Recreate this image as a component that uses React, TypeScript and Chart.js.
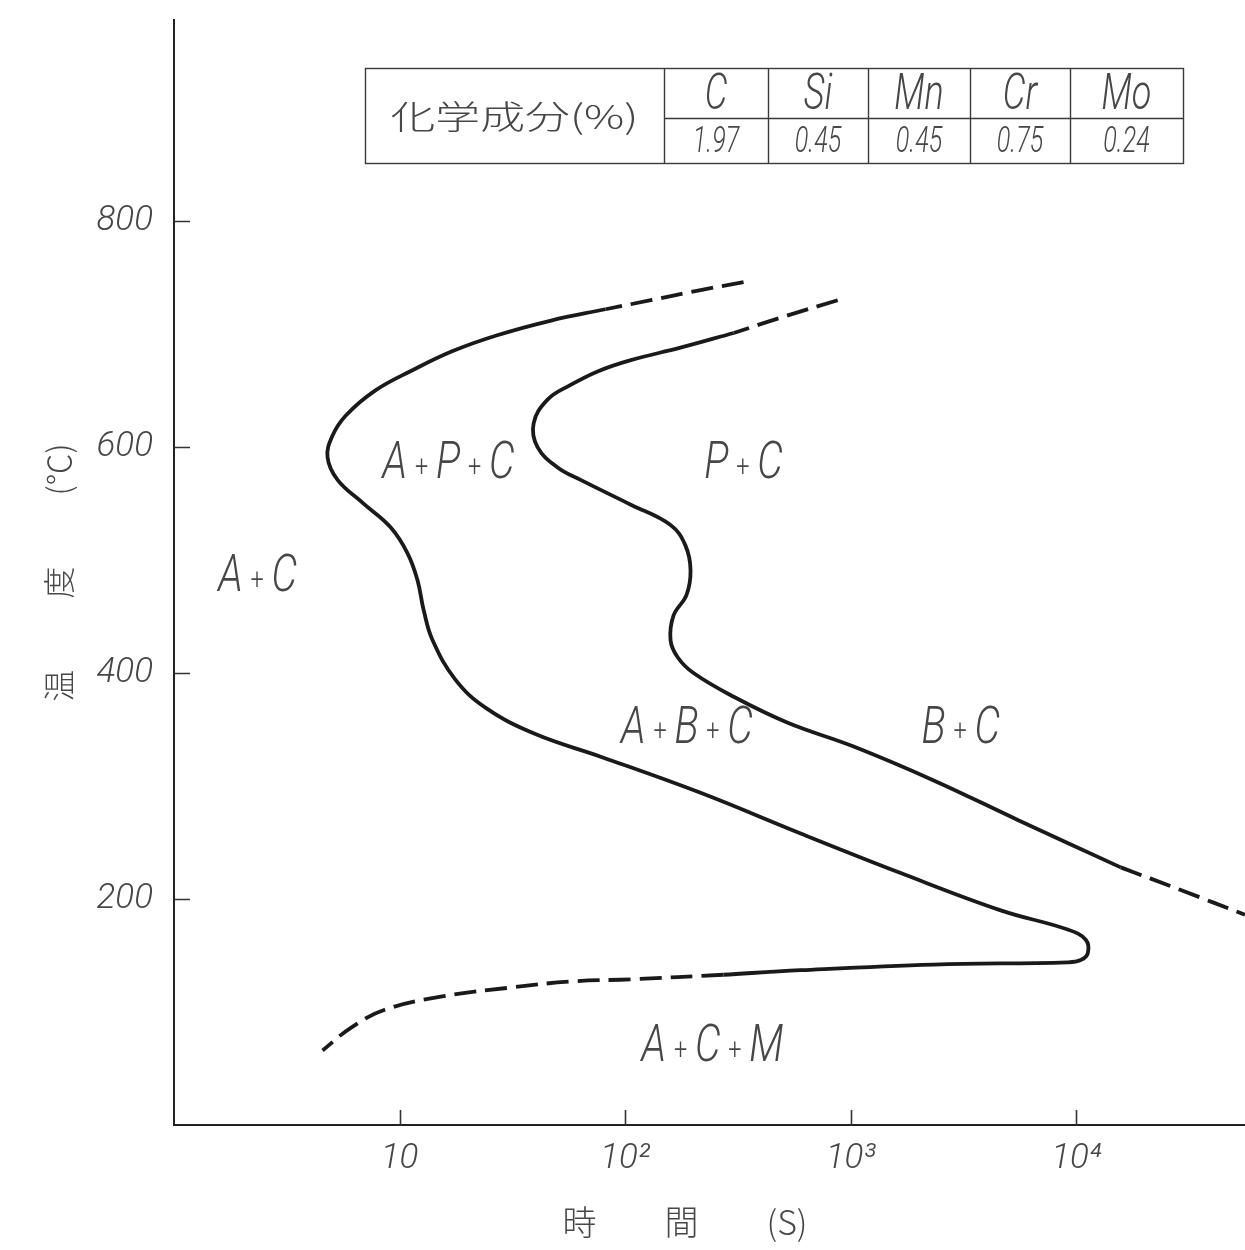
import React, { useEffect, useRef } from 'react';
import { Chart, registerables } from 'chart.js';

Chart.register(...registerables);

// Start curve of the isothermal transformation: time (s) and temperature (°C)
const startTopDashTime = [335, 216, 130, 81.9];
const startTopDashTemp = [746, 739, 730, 722];
const startTime = [81.9, 47.0, 27.1, 17.2, 11.4, 7.79, 5.78, 5.04, 4.794, 5.31, 6.925, 9.123, 10.85, 12.02, 12.78, 14.01, 17.71, 24.2, 40.0, 77.9, 216, 600, 1667, 4627, 9170, 11020, 11250, 10470, 9170, 2334, 600, 273];
const startTemp = [722, 712, 699, 685, 668, 650, 628, 610, 591, 571, 550, 529, 506, 482, 456, 429, 394, 369, 346, 326, 294, 258, 223, 190, 173, 164, 152, 146, 144, 142, 137, 133];
const startTailDashTime = [273, 107, 57.4, 32.3, 15.7, 8.59, 6.08, 4.556];
const startTailDashTemp = [133, 129, 127, 122, 114, 102, 86, 66];

// Finish curve
const finishTopDashTime = [876, 515, 303];
const finishTopDashTemp = [730, 716, 701];
const finishTime = [303, 176, 106, 75.5, 57.3, 45.3, 39.3, 40.9, 50.2, 63.5, 106, 159, 185, 195, 187, 164, 159, 171, 201, 303, 526, 1031, 2334, 5504, 15750];
const finishTemp = [701, 688, 677, 667, 655, 642, 621, 600, 582, 571, 549, 531, 513, 491, 469, 451, 429, 414, 400, 379, 356, 335, 305, 270, 228];
const finishTailDashTime = [15750, 29070, 56000];
const finishTailDashTemp = [228, 208, 186];

// Phase fields
const phaseNames = ['A + C', 'A + P + C', 'P + C', 'A + B + C', 'B + C', 'A + C + M'];
const phaseTime = [2.35, 16.5, 335, 188, 3075, 244];
const phaseTemp = [484, 584, 584, 350, 350, 68];

// Chemical composition
const compositionTitle = '化学成分(%)';
const elementNames = ['C', 'Si', 'Mn', 'Cr', 'Mo'];
const elementPercent = ['1.97', '0.45', '0.45', '0.75', '0.24'];

// Axes
const timeTicks = [10, 100, 1000, 10000];
const timeTickLabels = ['10', '10²', '10³', '10⁴'];
const tempTicks = [200, 400, 600, 800];

const THIN = 'Roboto, "Noto Sans", sans-serif';
const CJK = '"Noto Sans CJK JP", "Noto Sans CJK SC", sans-serif';
const INK = '#1a1a1a';
const TEXT = '#474747';

function squeezedText(ctx: CanvasRenderingContext2D, text: string, x: number, y: number, size: number, squeeze: number) {
  ctx.save();
  ctx.translate(x, y);
  ctx.scale(squeeze, 1);
  ctx.font = `italic 300 ${size}px ${THIN}`;
  ctx.textAlign = 'center';
  ctx.textBaseline = 'middle';
  ctx.fillText(text, 0, 0);
  ctx.restore();
}

function phaseText(ctx: CanvasRenderingContext2D, text: string, x: number, y: number) {
  const parts = text.split('+').map((s) => s.trim());
  const letterFont = `italic 300 52px ${THIN}`;
  const plusFont = `300 30px ${THIN}`;
  const gap = 10;
  ctx.save();
  ctx.translate(x, y);
  ctx.scale(0.78, 1);
  ctx.textAlign = 'left';
  ctx.textBaseline = 'middle';
  ctx.font = plusFont;
  const pw = ctx.measureText('+').width;
  ctx.font = letterFont;
  const widths = parts.map((p) => ctx.measureText(p).width);
  const total = widths.reduce((a, b) => a + b, 0) + (parts.length - 1) * (pw + 2 * gap);
  let cx = -total / 2;
  parts.forEach((p, i) => {
    ctx.font = letterFont;
    ctx.fillText(p, cx, 0);
    cx += widths[i];
    if (i < parts.length - 1) {
      cx += gap;
      ctx.font = plusFont;
      ctx.fillText('+', cx, 3);
      cx += pw + gap;
    }
  });
  ctx.restore();
}

const decorations = {
  id: 'decorations',
  afterDraw(chart: any) {
    const { ctx, chartArea, scales } = chart;
    const xs = scales.x;
    const ys = scales.y;
    ctx.save();

    // inward tick marks
    ctx.strokeStyle = '#333';
    ctx.lineWidth = 1.6;
    ctx.beginPath();
    timeTicks.forEach((v) => {
      const px = Math.round(xs.getPixelForValue(v)) + 0.5;
      ctx.moveTo(px, chartArea.bottom);
      ctx.lineTo(px, chartArea.bottom - 15);
    });
    tempTicks.forEach((v) => {
      const py = Math.round(ys.getPixelForValue(v)) + 0.5;
      ctx.moveTo(chartArea.left, py);
      ctx.lineTo(chartArea.left + 16, py);
    });
    ctx.stroke();

    // phase field names
    ctx.fillStyle = TEXT;
    phaseNames.forEach((name, i) => {
      phaseText(ctx, name, xs.getPixelForValue(phaseTime[i]), ys.getPixelForValue(phaseTemp[i]));
    });

    // composition table
    const left = 365, right = 1183, top = 68, bottom = 163, split = 118;
    const cols = [664, 768, 868, 970, 1070, right];
    ctx.strokeStyle = '#3a3a3a';
    ctx.lineWidth = 1.4;
    ctx.strokeRect(left + 0.5, top + 0.5, right - left, bottom - top);
    ctx.beginPath();
    cols.slice(0, -1).forEach((c) => {
      ctx.moveTo(c + 0.5, top);
      ctx.lineTo(c + 0.5, bottom);
    });
    ctx.moveTo(cols[0], split + 0.5);
    ctx.lineTo(right, split + 0.5);
    ctx.stroke();

    ctx.fillStyle = TEXT;
    ctx.font = `300 33px ${CJK}`;
    ctx.textAlign = 'center';
    ctx.textBaseline = 'middle';
    ctx.save();
    ctx.translate((left + cols[0]) / 2, (top + bottom) / 2 + 1);
    const w = ctx.measureText(compositionTitle).width;
    ctx.scale(248 / w, 1);
    ctx.fillText(compositionTitle, 0, 0);
    ctx.restore();

    elementNames.forEach((el, i) => {
      const cx = (cols[i] + cols[i + 1]) / 2;
      squeezedText(ctx, el, cx, (top + split) / 2 + 3, 50, 0.72);
      squeezedText(ctx, elementPercent[i], cx, (split + bottom) / 2 + 2, 36, 0.7);
    });

    ctx.restore();
  },
};

function segment(times: number[], temps: number[], dashed: boolean) {
  return {
    data: times.map((t, i) => ({ x: t, y: temps[i] })),
    showLine: true,
    borderColor: INK,
    backgroundColor: INK,
    borderWidth: 3.8,
    borderDash: dashed ? [22, 9] : [],
    borderCapStyle: 'butt',
    borderJoinStyle: 'round',
    tension: 0.4,
    pointRadius: 0,
    pointHoverRadius: 0,
    fill: false,
  };
}

export default function App() {
  const canvasRef = useRef<HTMLCanvasElement>(null);

  useEffect(() => {
    const canvas = canvasRef.current;
    if (!canvas) return;
    const chart = new Chart(canvas, {
      type: 'scatter',
      data: {
        datasets: [
          segment(startTopDashTime, startTopDashTemp, true),
          segment(startTime, startTemp, false),
          segment(startTailDashTime, startTailDashTemp, true),
          segment(finishTopDashTime, finishTopDashTemp, true),
          segment(finishTime, finishTemp, false),
          segment(finishTailDashTime, finishTailDashTemp, true),
        ] as any,
      },
      options: {
        responsive: false,
        animation: false,
        events: [],
        layout: { padding: { top: 20, left: 0, right: 0, bottom: 0 } },
        plugins: {
          legend: { display: false },
          tooltip: { enabled: false },
        },
        scales: {
          x: {
            type: 'logarithmic',
            min: 1,
            max: 56000,
            afterFit: (s: any) => {
              s.height = 125;
              s.paddingLeft = 0;
              s.paddingRight = 0;
            },
            afterBuildTicks: (s: any) => {
              s.ticks = timeTicks.map((v) => ({ value: v }));
            },
            grid: { display: false, drawTicks: false },
            border: { display: true, color: '#222', width: 2 },
            ticks: {
              autoSkip: false,
              maxRotation: 0,
              padding: 13,
              color: TEXT,
              font: { family: THIN, size: 35, style: 'italic', weight: '300' },
              callback: (v: any) => {
                const i = timeTicks.indexOf(Number(v));
                return i >= 0 ? timeTickLabels[i] : '';
              },
            },
            title: {
              display: true,
              text: '時　　間　　(S)　  ',
              color: TEXT,
              font: { family: CJK, size: 34, weight: '300' },
              padding: { top: 0, bottom: 8 },
            },
          },
          y: {
            type: 'linear',
            min: 0,
            max: 978,
            afterFit: (s: any) => {
              s.width = 174;
              s.paddingTop = 0;
              s.paddingBottom = 0;
            },
            afterBuildTicks: (s: any) => {
              s.ticks = tempTicks.map((v) => ({ value: v }));
            },
            grid: { display: false, drawTicks: false },
            border: { display: true, color: '#222', width: 2 },
            ticks: {
              padding: 21,
              color: TEXT,
              font: { family: THIN, size: 35, style: 'italic', weight: '300' },
              callback: (v: any) => String(v),
            },
            title: {
              display: true,
              text: '温　　 度　　 (℃)',
              color: TEXT,
              font: { family: CJK, size: 32, weight: '300' },
              padding: { top: 40, bottom: 0 },
            },
          },
        },
      } as any,
      plugins: [decorations],
    });
    return () => chart.destroy();
  }, []);

  return (
    <div style={{ position: 'absolute', left: 0, top: 0, width: 1245, height: 1250, background: '#fff' }}>
      <canvas ref={canvasRef} width={1245} height={1250} style={{ display: 'block', width: 1245, height: 1250 }} />
    </div>
  );
}
